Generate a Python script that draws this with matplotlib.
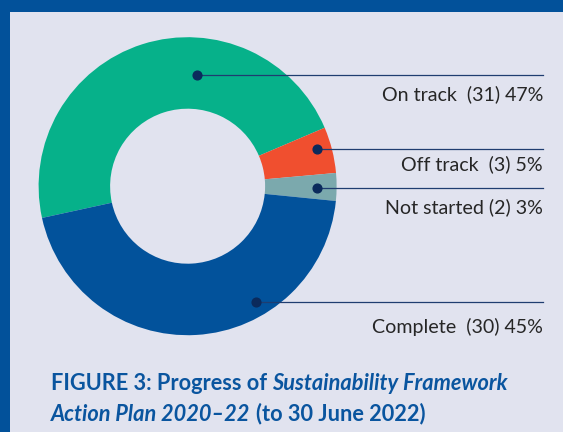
import matplotlib.pyplot as plt
from matplotlib.patches import Rectangle

# Sustainability Framework Action Plan progress
labels = ['On track', 'Off track', 'Not started', 'Complete']
counts = [31, 3, 2, 30]
percents = [47, 5, 3, 45]
colors = ['#06b18a', '#f04f2f', '#7ba9ad', '#02529b']

W, H = 563, 432
border = '#02519a'
bg = '#e1e3ef'

fig = plt.figure(figsize=(W / 100, H / 100), dpi=100)
fig.patch.set_facecolor(border)
ax = fig.add_axes([0, 0, 1, 1])


def py(y):
    # pixel rows run downwards, data y upwards
    return H - y


ax.add_patch(Rectangle((10, 0), W - 10, H - 12, color=bg, zorder=0, lw=0))

cx, cy = 187.6, py(186.2)
ax.pie(percents, colors=colors, startangle=192.3, counterclock=False,
       radius=149, center=(cx, cy),
       wedgeprops=dict(width=71.5, linewidth=0))
ax.set_xlim(0, W)
ax.set_ylim(0, H)
ax.set_aspect('equal')
ax.axis('off')

# leader lines: dot inside the ring, line out to the right margin
dots = [(196.7, 75), (316.7, 149), (316.7, 188.3), (256, 302.3)]
text_y = [94, 164.5, 207.5, 327]
gaps = ['  ', '  ', ' ', '  ']
x_end = 543

for lab, n, p, g, (dx, dy), ty in zip(labels, counts, percents, gaps, dots, text_y):
    ax.plot([dx, x_end], [py(dy), py(dy)], color='#1f3d70', lw=0.9, zorder=3)
    ax.plot(dx, py(dy), 'o', ms=6.3, color='#0b2a5c', zorder=4)
    ax.text(x_end, py(ty), f'{lab}{g}({n}) {p}%', ha='right', va='center',
            fontsize=14.1, family='Lato', color='#262626')

# caption, mixing upright and italic runs
title_color = '#0a559f'
caption = [
    [('FIGURE 3: Progress of', 'normal'), ('Sustainability Framework', 'italic')],
    [('Action Plan 2020\u201322', 'italic'), ('(to 30 June 2022)', 'normal')],
]
baselines = [390.3, 420.8]
fs = 15.7
renderer = fig.canvas.get_renderer()


def width(t):
    return t.get_window_extent(renderer).width


for runs, base in zip(caption, baselines):
    x = 51
    for s, style in runs:
        t = ax.text(x, py(base), s, ha='left', va='baseline', fontsize=fs,
                    family='Lato', fontweight='bold', fontstyle=style,
                    color=title_color)
        probe1 = ax.text(0, 0, 'x x', fontsize=fs, family='Lato', fontweight='bold')
        probe2 = ax.text(0, 0, 'xx', fontsize=fs, family='Lato', fontweight='bold')
        space = width(probe1) - width(probe2)
        probe1.remove()
        probe2.remove()
        x += width(t) + space

fig.savefig('out.png', dpi=100, facecolor=fig.get_facecolor())
